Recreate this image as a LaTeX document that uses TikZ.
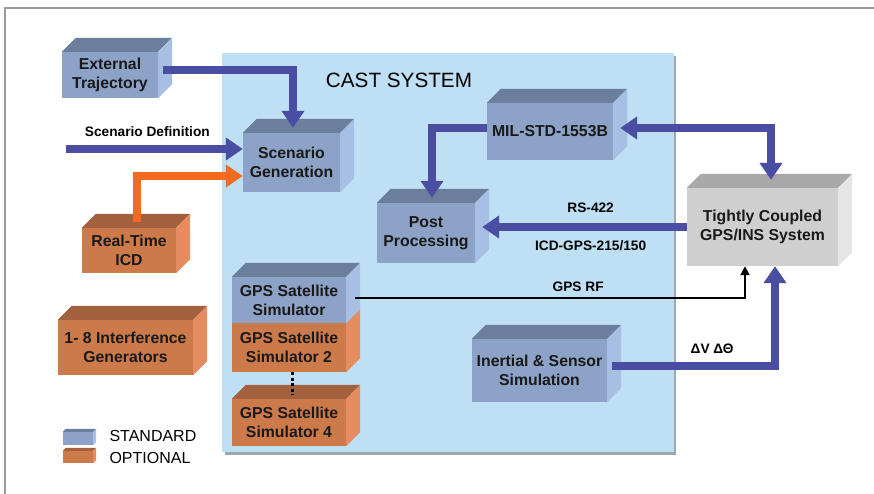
\documentclass[tikz,border=0pt]{standalone}
\usepackage{fontspec}
\setmainfont{Liberation Sans}
\usetikzlibrary{arrows.meta}
\definecolor{stdfront}{HTML}{8CA2C6}
\definecolor{stdtop}{HTML}{6B7E9B}
\definecolor{stdside}{HTML}{A6BFE2}
\definecolor{optfront}{HTML}{CD7A4B}
\definecolor{opttop}{HTML}{A3613F}
\definecolor{optside}{HTML}{E58D60}
\definecolor{grayfront}{HTML}{CFCFCF}
\definecolor{graytop}{HTML}{A9A9A9}
\definecolor{grayside}{HTML}{E5E5E5}
\definecolor{castbg}{HTML}{BEDFF4}
\definecolor{castshade}{HTML}{9DA7B0}
\definecolor{linkblue}{HTML}{4A4EA3}
\definecolor{linkorange}{HTML}{F26B21}
\definecolor{framegray}{HTML}{9A9A9A}
\tikzset{
  cubebox/.style={inner sep=0pt,align=center,text=black!90,font=\bfseries\fontsize{15.8}{19}\selectfont},
  linklabel/.style={inner sep=0pt,text=black,font=\bfseries\fontsize{13.7}{16}\selectfont},
  bigtip/.tip={Triangle[length=17pt,width=22pt]},
  biglink/.style={draw=linkblue,line width=7.5pt,-bigtip},
  thinlink/.style={draw=black,line width=2pt,-{Triangle[length=9pt,width=9pt]}}
}
% depth, name, position, width, height, colour, text
\newcommand\cubenode[7][14]{%
  \node[cubebox,fill=#6front,minimum width=#4pt,minimum height=#5pt](#2) at #3 {#7};
  \fill[#6top](#2.north west)--++(#1pt,#1pt)--([shift={(#1pt,#1pt)}]#2.north east)--(#2.north east)--cycle;
  \fill[#6side](#2.north east)--++(#1pt,#1pt)--([shift={(#1pt,#1pt)}]#2.south east)--(#2.south east)--cycle;
}
\begin{document}
\begin{tikzpicture}[x=1pt,y=-1pt]
\useasboundingbox (0,0) rectangle (874,494);
\draw[framegray,line width=1.5pt](5,494)--(5,8)--(874,8);
% cast system
\fill[castshade](225,56) rectangle (676,455);
\node[fill=castbg,minimum width=452pt,minimum height=399pt,inner sep=0pt](cast) at (448,252.5) {};
\node[font=\fontsize{20.7}{24}\selectfont](casttitle) at (399,80) {CAST SYSTEM};
% boxes
\cubenode{ext}{(110,75)}{96}{46}{std}{External\\Trajectory}
\cubenode{scen}{(291.5,162.5)}{97}{59}{std}{Scenario\\Generation}
\cubenode{rt}{(129,250.5)}{94}{45}{opt}{Real-Time\\ICD}
\cubenode{intf}{(125.5,347.5)}{135}{55}{opt}{1- 8 Interference\\Generators}
\cubenode{sim2}{(289,347.5)}{114}{49}{opt}{GPS Satellite\\Simulator 2}
\cubenode{sim1}{(289,300)}{114}{46}{std}{GPS Satellite\\Simulator}
\cubenode{sim4}{(289,422.5)}{114}{47}{opt}{GPS Satellite\\Simulator 4}
\cubenode{mil}{(550,131.5)}{126}{57}{std}{MIL-STD-1553B}
\cubenode{post}{(426,233)}{98}{60}{std}{Post\\Processing}
\cubenode{tight}{(762.5,227)}{151}{78}{gray}{Tightly Coupled\\GPS/INS System}
\cubenode{ins}{(539.5,370.5)}{135}{63}{std}{Inertial \& Sensor\\Simulation}
\draw[line width=3pt,dash pattern=on 3pt off 2.5pt]([xshift=3pt]sim2.south)--([xshift=3pt,yshift=4pt]sim4.north);
% legend
\cubenode[3]{keystd}{(78,438.5)}{30}{13}{std}{}
\cubenode[3]{keyopt}{(78,457)}{30}{12}{opt}{}
\node[anchor=west,font=\fontsize{16}{19}\selectfont](keystdtext) at (106,436) {STANDARD};
\node[anchor=west,font=\fontsize{16}{19}\selectfont](keyopttext) at (106,458) {OPTIONAL};
% links
\coordinate (sdef) at (66,149);
\coordinate (postin) at ([xshift=7pt]post.east);
\draw[biglink]([xshift=5pt,yshift=5pt]ext.east)-|([xshift=1.5pt,yshift=5pt]scen.north);
\draw[biglink](sdef)--(scen.west |- sdef)node[linklabel,pos=0.46,above=9pt]{Scenario Definition};
\draw[biglink,draw=linkorange]([xshift=8pt,yshift=6pt]rt.north)|-([yshift=-13.5pt]scen.west);
\draw[biglink]([yshift=3.5pt]mil.west)-|([xshift=6pt,yshift=5pt]post.north);
\draw[biglink,bigtip-bigtip]([xshift=7pt,yshift=3.5pt]mil.east)-|([xshift=8.5pt,yshift=8pt]tight.north);
\draw[biglink](tight.west)--(postin |- tight.west)
  node[linklabel,pos=0.47,above=11pt]{RS-422}
  node[linklabel,pos=0.47,below=10pt]{ICD-GPS-215/150};
\draw[thinlink]([xshift=9pt,yshift=2pt]sim1.east)-|([xshift=-17.5pt]tight.south)node[linklabel,pos=0.286,above=5pt]{GPS RF};
\draw[biglink]([xshift=5pt,yshift=4.5pt]ins.east)-|([xshift=12.5pt]tight.south)node[linklabel,pos=0.307,above=9pt]{ΔV ΔΘ};
\end{tikzpicture}
\end{document}
